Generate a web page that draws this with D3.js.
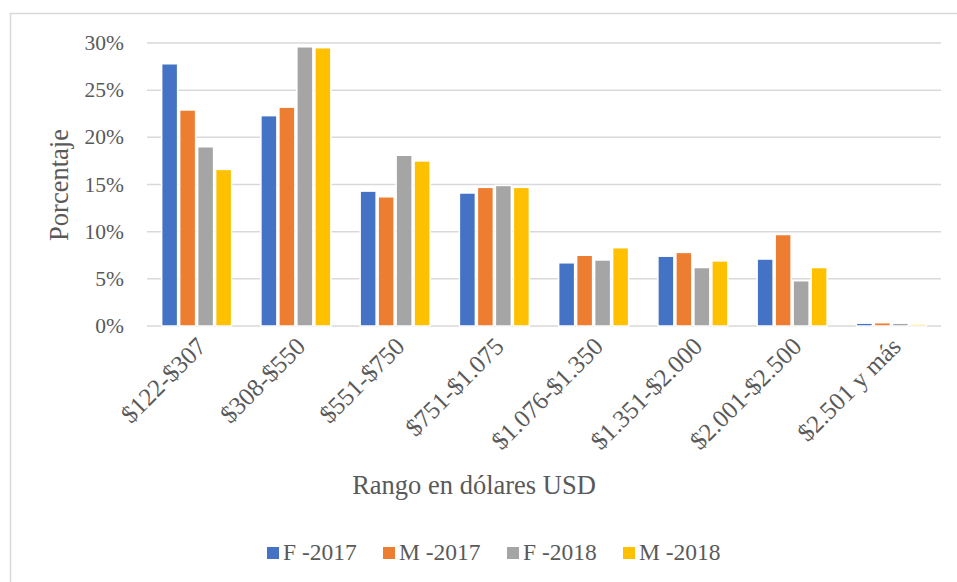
<!DOCTYPE html>
<html>
<head>
<meta charset="utf-8">
<script src="https://cdn.jsdelivr.net/npm/d3@7"></script>
<style>
  body { margin: 0; background: #fff; }
</style>
</head>
<body>
<div id="chart"></div>
<script>
'use strict';

// categories and series
const categories = ['$122-$307', '$308-$550', '$551-$750', '$751-$1.075',
                    '$1.076-$1.350', '$1.351-$2.000', '$2.001-$2.500', '$2.501 y más'];
const seriesNames = ['F -2017', 'M -2017', 'F -2018', 'M -2018'];
const f2017 = [27.8, 22.3, 14.3, 14.1, 6.7, 7.4, 7.1, 0.3];
const m2017 = [22.9, 23.2, 13.7, 14.7, 7.5, 7.8, 9.7, 0.35];
const f2018 = [19.0, 29.6, 18.1, 14.9, 7.0, 6.2, 4.8, 0.3];
const m2018 = [16.6, 29.5, 17.5, 14.7, 8.3, 6.9, 6.2, 0.2];
const yTicks = [0, 5, 10, 15, 20, 25, 30];
const colors = ['#4472c4', '#ed7d31', '#a5a5a5', '#ffc000'];

const seriesValues = [f2017, m2017, f2018, m2018];

const W = 957, H = 582;
const plot = { left: 147, right: 941, top: 43, bottom: 326 };

const svg = d3.select('#chart').append('svg')
  .attr('width', W).attr('height', H)
  .attr('font-family', "'Liberation Serif', 'DejaVu Serif', serif")
  .attr('fill', '#595959');

// chart frame (only top and left edges visible in the shot)
svg.append('path')
  .attr('d', `M10.5,${H} V13.5 H${W}`)
  .attr('fill', 'none')
  .attr('stroke', '#d9d9d9')
  .attr('stroke-width', 1.5);

const x0 = d3.scaleBand().domain(categories).range([plot.left, plot.right])
  .paddingInner(0.275).paddingOuter(0.1375);
const x1 = d3.scaleBand().domain(seriesNames).range([0, x0.bandwidth()]).padding(0);
const y = d3.scaleLinear().domain([0, 30]).range([plot.bottom, plot.top]);

// gridlines
svg.append('g').selectAll('line').data(yTicks).join('line')
  .attr('x1', plot.left).attr('x2', plot.right)
  .attr('y1', d => y(d)).attr('y2', d => y(d))
  .attr('stroke', '#d9d9d9').attr('stroke-width', 1.5);

// y tick labels
svg.append('g').selectAll('text').data(yTicks).join('text')
  .attr('x', 124).attr('y', d => y(d) + 7)
  .attr('text-anchor', 'end')
  .attr('font-size', 21.5)
  .text(d => d + '%');

// bars
const groups = svg.append('g').selectAll('g').data(categories).join('g')
  .attr('transform', d => `translate(${x0(d)},0)`);

groups.selectAll('rect')
  .data((c, i) => seriesNames.map((s, k) => ({ s: s, v: seriesValues[k][i], k: k })))
  .join('rect')
  .attr('x', d => x1(d.s) + 1)
  .attr('width', x1.bandwidth() - 2)
  .attr('y', d => y(d.v))
  .attr('height', d => y(0) - y(d.v))
  .attr('fill', d => colors[d.k])
  .attr('stroke', '#fff')
  .attr('stroke-width', 1.5);

// x category labels, rotated
svg.append('g').selectAll('text').data(categories).join('text')
  .attr('text-anchor', 'end')
  .attr('transform', d => `translate(${x0(d) + x0.bandwidth() / 2 + 11},${plot.bottom + 22}) rotate(-45)`)
  .attr('font-size', 25)
  .text(d => d);

// axis titles
svg.append('text')
  .attr('x', 474).attr('y', 494)
  .attr('text-anchor', 'middle')
  .attr('font-size', 26.5)
  .text('Rango en dólares USD');

svg.append('text')
  .attr('transform', 'translate(68,185) rotate(-90)')
  .attr('text-anchor', 'middle')
  .attr('font-size', 26.5)
  .text('Porcentaje');

// legend
const legendX = [267, 383, 507, 623];
const legend = svg.append('g').selectAll('g').data(seriesNames).join('g')
  .attr('transform', (d, i) => `translate(${legendX[i]},547)`);
legend.append('rect')
  .attr('width', 12).attr('height', 12)
  .attr('fill', (d, i) => colors[i]);
legend.append('text')
  .attr('x', 16).attr('y', 13)
  .attr('font-size', 23.5)
  .text(d => d);
</script>
</body>
</html>
